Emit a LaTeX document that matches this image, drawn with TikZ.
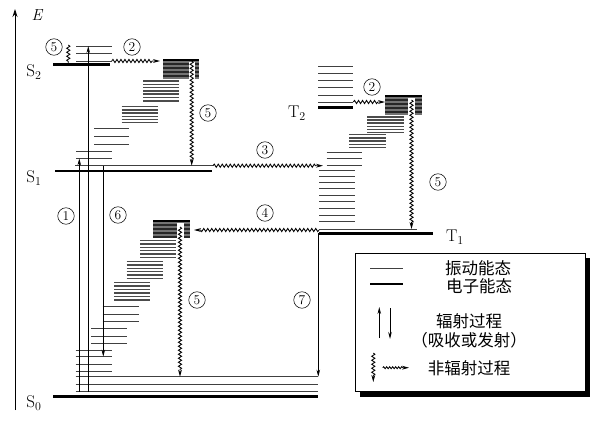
\documentclass[tikz,border=0pt]{standalone}
\usepackage{fontspec}
\newfontfamily\cjk{Noto Sans CJK SC}
\usetikzlibrary{decorations.pathmorphing,arrows.meta}
\tikzset{
  vib/.style={line width=0.9pt, black!75},
  elec/.style={line width=2.6pt, black},
  stk/.style={line width=1.5pt, black!70},
  radarr/.style={line width=0.8pt, -{Stealth[length=7pt,width=3.5pt]}},
  wavy/.style={line width=0.85pt, decorate,
    decoration={snake, amplitude=1.6pt, segment length=4pt, post length=6pt}},
  wavyarr/.style={wavy, -{Stealth[length=7pt,width=3.8pt]}},
  num/.style={circle, draw, line width=0.55pt, minimum size=16.5pt, inner sep=0pt,
    font=\fontsize{13.5}{13.5}\selectfont},
  lvl/.style={font=\fontsize{17}{17}\selectfont, inner sep=0pt},
  legtxt/.style={font=\cjk\fontsize{16.5}{16.5}\selectfont, inner sep=0pt}
}
\newcommand\levelstack[5]{% x1 x2 ytop n dy
  \foreach \i in {1,...,#4}{\draw[stk] ({#1},{#3+(\i-1)*#5}) -- ({#2},{#3+(\i-1)*#5});}}
\newcommand\denseblock[4]{% x1 x2 ytop ybot
  \fill[black!55] ({#1},{#3}) rectangle ({#2},{#4});
  \draw[line width=1.6pt] ({#1},{#3+0.8}) -- ({#2},{#3+0.8});
  \foreach \yy in {5,9,13,17}{\draw[line width=1.1pt,black!85] ({#1},{#3+\yy}) -- ({#2},{#3+\yy});}}
\begin{document}
\begin{tikzpicture}[x=1pt,y=-1pt]
\useasboundingbox (0,0) rectangle (600,421);
\fill[white] (0,0) rectangle (600,421);

% energy axis
\coordinate (axb) at (15,410);
\coordinate (axt) at (15,9);
\draw[line width=0.8pt,-{Stealth[length=8pt,width=5pt]}] (axb) -- (axt);
\node[font=\itshape\fontsize{16}{16}\selectfont, inner sep=0pt] (E) at (37,15) {E};

% ---------- S2 ----------
\foreach \y in {46,53.3,61}{\draw[vib] (76,\y) -- (111.7,\y);}
\draw[elec] (53.3,64.3) -- (110,64.3);
% ---------- S1 staircase ----------
\denseblock{163}{199}{59}{79}
\fill[white] (188.5,62) rectangle (195,79.5);
\levelstack{143}{179}{81}{7}{3.3}
\levelstack{121.7}{158.3}{106.7}{6}{3.2}
\foreach \y in {128,136,144}{\draw[vib] (94,\y) -- (129,\y);}
\foreach \y in {151,158.3}{\draw[vib] (76,\y) -- (111.7,\y);}
\draw[vib] (75,165.7) -- (213,165.7);
\draw[elec] (55,171) -- (212,171);

% ---------- T2 / T1 ----------
\foreach \y in {66,73.3,80.7,87.7,95,102}{\draw[vib] (318.3,\y) -- (353.3,\y);}
\draw[elec] (318.3,107.3) -- (353.3,107.3);
\denseblock{385}{421.7}{95}{115}
\fill[white] (408,98) rectangle (415,115.5);
\levelstack{367}{404}{117}{6}{3.1}
\levelstack{349.3}{386}{134.5}{5}{3.3}
\foreach \y in {152.3,158.3,165}{\draw[vib] (326.7,\y) -- (361.7,\y);}
\foreach \y in {170.7,176.7,182.7,188.3,195,201.7,208.3,215,221.7}{\draw[vib] (319.3,\y) -- (355,\y);}
\draw[vib] (319,229) -- (416.7,229);
\draw[elec] (319.3,233.3) -- (433,233.3);

% ---------- S0 staircase ----------
\denseblock{153.3}{190}{220}{238.3}
\fill[white] (176.5,223) rectangle (183.5,238.8);
\levelstack{140}{176}{240.5}{6}{3.4}
\levelstack{126.7}{162.7}{261.5}{6}{3.4}
\levelstack{114}{150}{282.5}{6}{3.5}
\foreach \y in {306.7,314,321.7}{\draw[vib] (102.7,\y) -- (139.3,\y);}
\foreach \y in {328.3,336,343.3}{\draw[vib] (91,\y) -- (126.7,\y);}
\foreach \y in {350,356.7,364,371}{\draw[vib] (75.7,\y) -- (111.7,\y);}
\foreach \y in {376.7,384,391.7}{\draw[vib] (75.7,\y) -- (318,\y);}
\draw[elec] (53.3,396.5) -- (318,396.5);

% ---------- coordinates for processes ----------
\coordinate (a1s) at (79.3,391.7);  \coordinate (a1e) at (79.3,158.3);
\coordinate (a2s) at (88.3,391.7);  \coordinate (a2e) at (88.3,46);
\coordinate (f6s) at (103.3,165.7); \coordinate (f6e) at (103.3,356.7);
\coordinate (p7s) at (318.3,233.3); \coordinate (p7e) at (318.3,376.7);
\coordinate (v5as) at (68.3,45);    \coordinate (v5ae) at (68.3,63);
\coordinate (ic2s) at (111.7,61);   \coordinate (ic2e) at (160,61);
\coordinate (v5bs) at (191.7,61);   \coordinate (v5be) at (191.7,165.7);
\coordinate (isc3s) at (213,165.7); \coordinate (isc3e) at (323,165.7);
\coordinate (ic2ts) at (353.3,102); \coordinate (ic2te) at (385,102);
\coordinate (v5cs) at (411.5,100);  \coordinate (v5ce) at (411.5,229);
\coordinate (isc4s) at (319,230);   \coordinate (isc4e) at (194,230);
\coordinate (v5ds) at (180,227);    \coordinate (v5de) at (180,376.7);

\draw[radarr] (a1s) -- (a1e);
\draw[radarr] (a2s) -- (a2e);
\draw[radarr] (f6s) -- (f6e);
\draw[radarr] (p7s) -- (p7e);
\draw[wavy, decoration={post length=0pt}] (v5as) -- (v5ae);
\draw[wavyarr] (ic2s) -- (ic2e);
\draw[wavyarr] (v5bs) -- (v5be);
\draw[wavyarr] (isc3s) -- (isc3e);
\draw[wavyarr] (ic2ts) -- (ic2te);
\draw[wavyarr] (v5cs) -- (v5ce);
\draw[wavyarr] (isc4s) -- (isc4e);
\draw[wavyarr] (v5ds) -- (v5de);

% ---------- labels ----------
\node[num] (n5a) at (54,47) {5};
\node[num] (n2a) at (132,47) {2};
\node[num] (n5b) at (208,113) {5};
\node[num] (n3)  at (265,150) {3};
\node[num] (n2b) at (372,87) {2};
\node[num] (n5c) at (438,182) {5};
\node[num] (n4)  at (265,213) {4};
\node[num] (n1)  at (66,216) {1};
\node[num] (n6)  at (118,215) {6};
\node[num] (n5d) at (197,300) {5};
\node[num] (n7)  at (302,300) {7};

\node[lvl] (S2) at (34,72) {S$_2$};
\node[lvl] (S1) at (34,178) {S$_1$};
\node[lvl] (T2) at (297,113) {T$_2$};
\node[lvl] (T1) at (455,237) {T$_1$};
\node[lvl] (S0) at (34,403) {S$_0$};

% ---------- legend ----------
\fill[black] (360,258.3) rectangle (590,396.7);
\draw[fill=white, line width=0.8pt] (355,253.3) rectangle (585,391.7);
\coordinate (lv1) at (370,268.3); \coordinate (lv2) at (403.3,268.3);
\coordinate (le1) at (370,284);   \coordinate (le2) at (403.3,284);
\draw[vib] (lv1) -- (lv2);
\draw[elec] (le1) -- (le2);
\node[legtxt] (t1) at (478,268) {振动能态};
\node[legtxt] (t2) at (479,286) {电子能态};
\coordinate (lu1) at (379.3,338); \coordinate (lu2) at (379.3,307);
\coordinate (ld1) at (390,308);   \coordinate (ld2) at (390,339);
\draw[radarr] (lu1) -- (lu2);
\draw[radarr] (ld1) -- (ld2);
\node[legtxt] (t3) at (469,321) {辐射过程};
\node[legtxt] (t4) at (469,340) {（吸收或发射）};
\coordinate (lw1) at (373.3,353); \coordinate (lw2) at (373.3,382);
\coordinate (lh1) at (382.7,367.7); \coordinate (lh2) at (409,367.7);
\draw[wavyarr] (lw1) -- (lw2);
\draw[wavyarr, decoration={amplitude=1pt, segment length=3pt, post length=5pt}] (lh1) -- (lh2);
\node[legtxt] (t5) at (469,368) {非辐射过程};
\end{tikzpicture}
\end{document}
